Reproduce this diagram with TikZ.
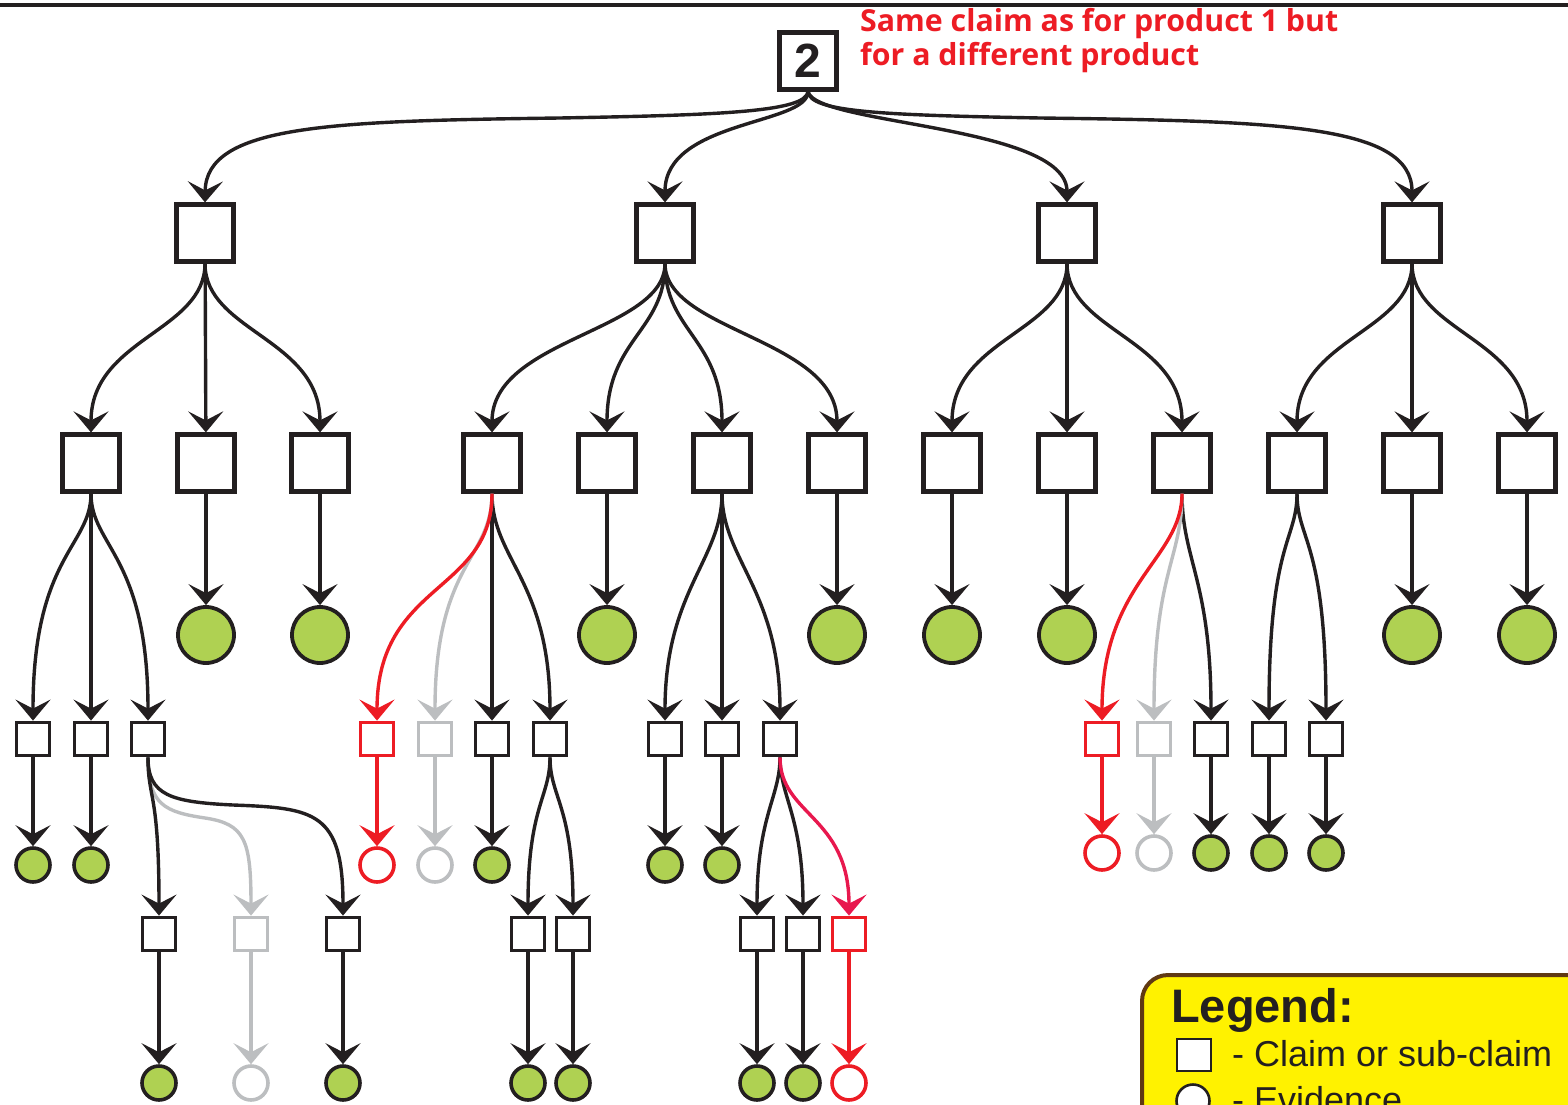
\documentclass[tikz,border=0pt]{standalone}
\usepackage{fontspec}
\setmainfont{Liberation Sans}
\newfontfamily\notefont{Open Sans}
\usetikzlibrary{arrows.meta}

\definecolor{ink}{HTML}{231F20}
\definecolor{alert}{HTML}{ED1C24}
\definecolor{alertpink}{HTML}{E8184E}
\definecolor{faded}{HTML}{BCBEC0}
\definecolor{leaf}{HTML}{AFD152}
\definecolor{legendfill}{HTML}{FFF200}
\definecolor{legendedge}{HTML}{603913}

\begin{document}
\begin{tikzpicture}[x=1pt,y=-1pt,
  claim/.style={draw=ink,line width=4.2pt,fill=white,minimum size=57pt,inner sep=0pt},
  sub/.style={draw=ink,line width=3.8pt,fill=white,minimum size=33pt,inner sep=0pt},
  bigev/.style={circle,draw=ink,line width=3.8pt,fill=leaf,minimum size=56pt,inner sep=0pt},
  smallev/.style={circle,draw=ink,line width=3.6pt,fill=leaf,minimum size=34pt,inner sep=0pt},
  redsub/.style={sub,draw=alert},
  greysub/.style={sub,draw=faded},
  redev/.style={smallev,draw=alert,fill=white},
  greyev/.style={smallev,draw=faded,fill=white},
  link/.style={draw=ink,line width=3.4pt,-{Stealth[length=21pt,width=35pt,inset=9pt]}},
  redlink/.style={link,draw=alert},
  pinklink/.style={link,draw=alertpink},
  greylink/.style={link,draw=faded},
  notetext/.style={anchor=base west,inner sep=0pt,text=alert,font=\notefont\fontsize{30.3}{34}\selectfont\bfseries},
  legendtext/.style={anchor=base west,inner sep=0pt,text=ink,font=\fontsize{36}{36}\selectfont},
]
\useasboundingbox (0,0) rectangle (1568,1105);
\clip (0,0) rectangle (1568,1105);

% heading rule
\draw[ink,line width=4.5pt] (0,5) -- (1568,5);

% top claim and its note
\node[claim,font=\fontsize{48}{48}\selectfont\bfseries,text=ink] (r) at (808,61) {2};
\node[notetext] (note1) at (860,32) {Same claim as for product 1 but};
\node[notetext] (note2) at (860,66) {for a different product};

% level 1 claims
\foreach \n/\x in {a/205,b/665,c/1067,d/1412}
  \node[claim] (\n) at (\x,233) {};

% level 2 claims
\foreach \n/\x in {a1/91,a2/206,a3/320,b1/492,b2/607,b3/722,b4/837,c1/952,c2/1067,c3/1182,d1/1297,d2/1412,d3/1527}
  \node[claim] (\n) at (\x,463) {};

% evidence under level 2
\foreach \n/\x in {a2e/206,a3e/320,b2e/607,b4e/837,c1e/952,c2e/1067,d2e/1412,d3e/1527}
  \node[bigev] (\n) at (\x,635) {};

% level 3 sub-claims
\foreach \n/\x in {a11/33,a12/91,a13/148,b13/492,b14/550,b31/665,b32/722,b33/780,c33/1211,d11/1269,d12/1326}
  \node[sub] (\n) at (\x,739) {};
\node[redsub] (b11) at (377,739) {};
\node[greysub] (b12) at (435,739) {};
\node[redsub] (c31) at (1102,739) {};
\node[greysub] (c32) at (1154,739) {};

% evidence under level 3
\foreach \n/\x in {a11e/33,a12e/91,b13e/492,b31e/665,b32e/722}
  \node[smallev] (\n) at (\x,865) {};
\node[redev] (b11e) at (377,865) {};
\node[greyev] (b12e) at (435,865) {};
\foreach \n/\x in {c33e/1211,d11e/1269,d12e/1326}
  \node[smallev] (\n) at (\x,853) {};
\node[redev] (c31e) at (1102,853) {};
\node[greyev] (c32e) at (1154,853) {};

% level 4 sub-claims and their evidence
\foreach \n/\x in {a131/159,a133/343,b141/528,b142/573,b331/757,b332/803}{
  \node[sub] (\n) at (\x,934) {};
  \node[smallev] (\n e) at (\x,1083) {};
}
\node[greysub] (a132) at (251,934) {};
\node[greyev] (a132e) at (251,1083) {};
\node[redsub] (b333) at (849,934) {};
\node[redev] (b333e) at (849,1083) {};

% root to level 1
\draw[link] (r.south) .. controls (806,112) and (720,115) .. (560,118)
                      .. controls (330,121) and (206,125) .. (a.north);
\draw[link] (r.south) .. controls (808,125) and (665,120) .. (b.north);
\draw[link] (r.south) .. controls (815,125) and (1067,125) .. (c.north);
\draw[link] (r.south) .. controls (810,112) and (880,115) .. (1040,118)
                      .. controls (1280,121) and (1412,125) .. (d.north);

% level 1 to level 2
\foreach \p/\c in {a/a1,a/a3,b/b1,b/b2,b/b3,b/b4,c/c1,c/c3,d/d1,d/d3}
  \draw[link] (\p.south) .. controls +(0,68) and +(0,-94) .. (\c.north);
\foreach \p/\c in {a/a2,c/c2,d/d2}
  \draw[link] (\p) -- (\c);

% level 2 to evidence
\foreach \p in {a2,a3,b2,b4,c1,c2,d2,d3}
  \draw[link] (\p) -- (\p e);

% level 2 to level 3
\draw[link] (a1.south) .. controls +(0,53) and +(0,-165) .. (a11.north);
\draw[link] (a1) -- (a12);
\draw[link] (a1.south) .. controls +(0,53) and +(0,-165) .. (a13.north);
\draw[link] (b1) -- (b13);
\draw[link] (b1.south) .. controls +(0,66) and +(0,-140) .. (b14.north);
\draw[link] (b3.south) .. controls +(0,66) and +(0,-130) .. (b31.north);
\draw[link] (b3) -- (b32);
\draw[link] (b3.south) .. controls +(0,66) and +(0,-130) .. (b33.north);
\draw[link] (c3.south) .. controls +(0,66) and +(0,-140) .. (c33.north);
\draw[link] (d1.south) .. controls +(0,47) and +(0,-180) .. (d11.north);
\draw[link] (d1.south) .. controls +(0,47) and +(0,-180) .. (d12.north);
\draw[greylink] (b1.south) .. controls +(0,66) and +(0,-159) .. (b12.north);
\draw[greylink] (c3.south) .. controls +(0,66) and +(0,-150) .. (c32.north);
\draw[redlink] (b1.south) .. controls +(0,100) and +(0,-139) .. (b11.north);
\draw[redlink] (c3.south) .. controls +(0,66) and +(0,-139) .. (c31.north);

% level 3 to evidence
\foreach \p in {a11,a12,b13,b31,b32,c33,d11,d12}
  \draw[link] (\p) -- (\p e);
\draw[greylink] (b12) -- (b12e);
\draw[greylink] (c32) -- (c32e);
\draw[redlink] (b11) -- (b11e);
\draw[redlink] (c31) -- (c31e);

% level 3 to level 4
\draw[greylink] (a13.south) .. controls (148,805) and (165,812) .. (205,818)
                            .. controls (245,824) and (251,840) .. (a132.north);
\draw[link] (a13.south) .. controls +(0,43) and +(0,-126) .. (a131.north);
\draw[link] (a13.south) .. controls (148,795) and (170,802) .. (233,805)
                        .. controls (315,808) and (343,812) .. (a133.north);
\draw[link] (b14.south) .. controls +(0,40) and +(0,-110) .. (b141.north);
\draw[link] (b14.south) .. controls +(0,40) and +(0,-110) .. (b142.north);
\draw[link] (b33.south) .. controls +(0,40) and +(0,-100) .. (b331.north);
\draw[link] (b33.south) .. controls +(0,40) and +(0,-100) .. (b332.north);
\draw[pinklink] (b33.south) .. controls +(0,58) and +(0,-100) .. (b333.north);

% level 4 to evidence
\foreach \p in {a131,a133,b141,b142,b331,b332}
  \draw[link] (\p) -- (\p e);
\draw[greylink] (a132) -- (a132e);
\draw[redlink] (b333) -- (b333e);

% legend
\draw[draw=legendedge,fill=legendfill,line width=4pt,rounded corners=26pt] (1142,975) rectangle (1660,1200);
\node[anchor=base west,inner sep=0pt,text=ink,font=\fontsize{47}{47}\selectfont\bfseries] (legtitle) at (1171,1022) {Legend:};
\node[draw=ink,line width=2.6pt,fill=white,minimum width=34pt,minimum height=32pt,inner sep=0pt] (legbox) at (1194,1055) {};
\node[legendtext] (legclaim) at (1232,1066) {- Claim or sub-claim};
\node[circle,draw=ink,line width=2.6pt,fill=white,minimum size=33pt,inner sep=0pt] (legcirc) at (1193,1101) {};
\node[legendtext] (legev) at (1232,1112) {- Evidence};
\end{tikzpicture}
\end{document}
